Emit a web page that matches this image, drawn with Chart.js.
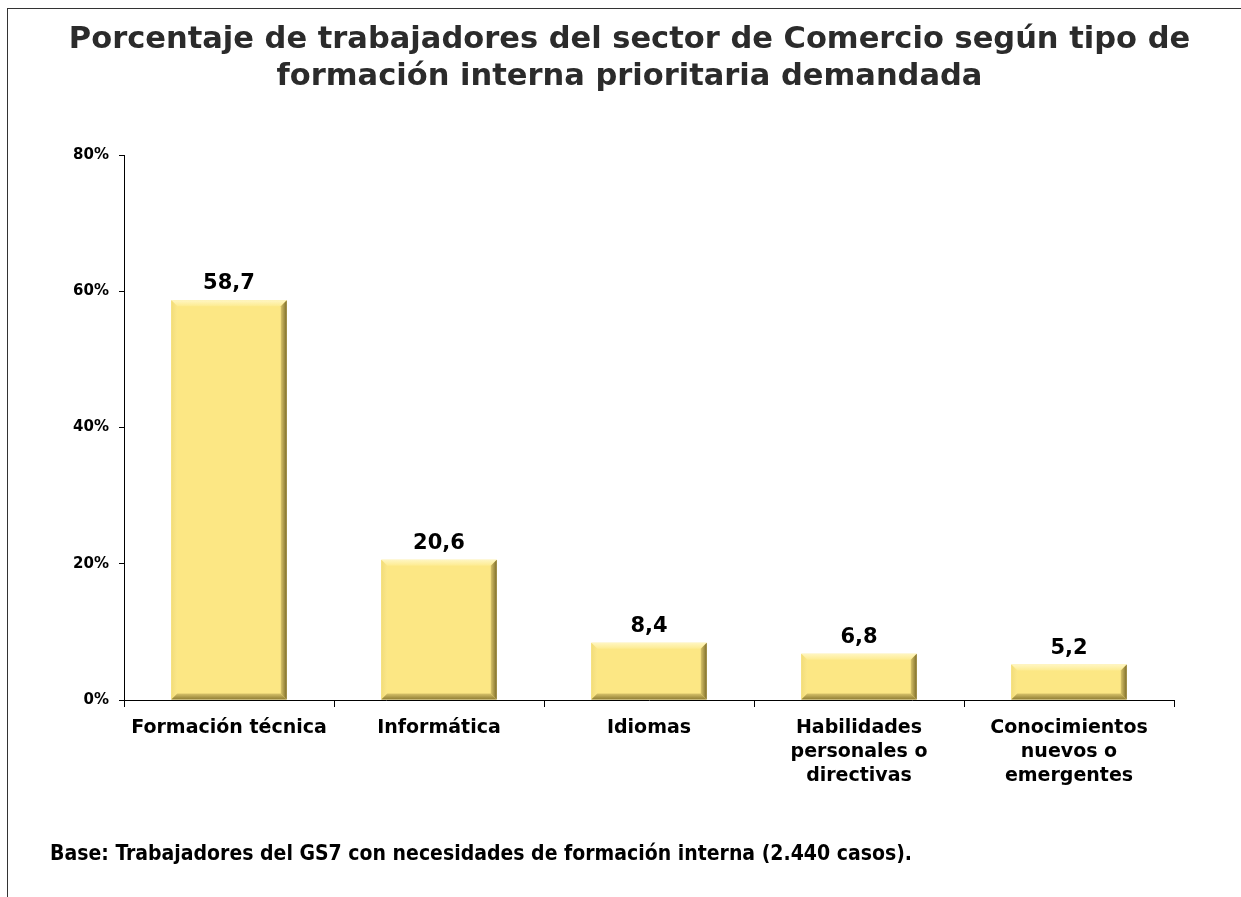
<!DOCTYPE html>
<html>
<head>
<meta charset="utf-8">
<script src="https://cdn.jsdelivr.net/npm/chart.js@4"></script>
<style>
    html, body { margin: 0; padding: 0; background: #fff; overflow: hidden; }
    #frame {
        position: absolute; left: 7px; top: 8px; width: 1400px; height: 1000px;
        border-left: 1px solid #333; border-top: 1px solid #333;
    }
    #wrap { position: absolute; left: 0; top: 0; width: 1241px; height: 897px; }
    #footer {
        position: absolute; left: 50px; top: 843px;
        font-family: "DejaVu Sans", Verdana, sans-serif;
        font-weight: bold; font-size: 21px; line-height: 1;
        font-stretch: condensed;
        white-space: nowrap; color: #000;
    }
</style>
</head>
<body>
<div id="frame"></div>
<div id="wrap"><canvas id="chart" width="1241" height="897"></canvas></div>
<div id="footer">Base: Trabajadores del GS7 con necesidades de formación interna (2.440 casos).</div>

<script>
'use strict';

// chart data
const categories = [
    'Formación técnica',
    'Informática',
    'Idiomas',
    ['Habilidades', 'personales o', 'directivas'],
    ['Conocimientos', 'nuevos o', 'emergentes'],
];
const percentages = [58.7, 20.6, 8.4, 6.8, 5.2];
const yTicks = [0, 20, 40, 60, 80];
const titleLines = [
    'Porcentaje de trabajadores del sector de Comercio según tipo de',
    'formación interna prioritaria demandada',
];

const FONT = '"DejaVu Sans", Verdana, sans-serif';

// squeeze the footer note to the width it has in the original
const footer = document.getElementById('footer');
const footerTarget = 862;
const footerNatural = footer.getBoundingClientRect().width;
footer.style.letterSpacing = ((footerTarget - footerNatural) / footer.textContent.length) + 'px';

/**
 * Draw a bevel on every bar, like the office "relieve" effect.
 */
const bevelPlugin = {
    id: 'bevel',
    afterDatasetsDraw(chart) {
        const ctx = chart.ctx;
        const meta = chart.getDatasetMeta(0);
        meta.data.forEach((bar) => {
            const p = bar.getProps(['x', 'y', 'base', 'width'], true);
            const l = p.x - p.width / 2;
            const r = p.x + p.width / 2;
            const t = p.y;
            const b = p.base;
            const d = 6;

            const poly = (pts, fill) => {
                ctx.beginPath();
                ctx.moveTo(pts[0][0], pts[0][1]);
                pts.slice(1).forEach((q) => ctx.lineTo(q[0], q[1]));
                ctx.closePath();
                ctx.fillStyle = fill;
                ctx.fill();
            };

            ctx.save();
            // top
            let g = ctx.createLinearGradient(0, t, 0, t + d);
            g.addColorStop(0, '#fff6c2');
            g.addColorStop(1, '#fdeb90');
            poly([[l, t], [r, t], [r - d, t + d], [l + d, t + d]], g);
            // left
            g = ctx.createLinearGradient(l, 0, l + d, 0);
            g.addColorStop(0, '#f2dc78');
            g.addColorStop(1, '#fbe78a');
            poly([[l, t], [l + d, t + d], [l + d, b - d], [l, b]], g);
            // right
            g = ctx.createLinearGradient(r - d, 0, r, 0);
            g.addColorStop(0, '#d9c46a');
            g.addColorStop(1, '#7d6c2a');
            poly([[r, t], [r, b], [r - d, b - d], [r - d, t + d]], g);
            // bottom
            g = ctx.createLinearGradient(0, b - d, 0, b);
            g.addColorStop(0, '#d8c36a');
            g.addColorStop(1, '#8f7d33');
            poly([[l, b], [l + d, b - d], [r - d, b - d], [r, b]], g);
            ctx.restore();
        });
    },
};

/**
 * Value labels above bars (Spanish decimal comma).
 */
const valueLabelPlugin = {
    id: 'valueLabels',
    afterDatasetsDraw(chart) {
        const ctx = chart.ctx;
        const meta = chart.getDatasetMeta(0);
        const values = chart.data.datasets[0].data;
        ctx.save();
        ctx.font = 'bold 21px ' + FONT;
        ctx.fillStyle = '#000';
        ctx.textAlign = 'center';
        ctx.textBaseline = 'alphabetic';
        meta.data.forEach((bar, i) => {
            const text = values[i].toFixed(1).replace('.', ',');
            ctx.fillText(text, bar.x, bar.y - 11);
        });
        ctx.restore();
    },
};

const ctx = document.getElementById('chart').getContext('2d');

new Chart(ctx, {
    type: 'bar',
    data: {
        labels: categories,
        datasets: [
            {
                data: percentages,
                backgroundColor: '#fce784',
                borderWidth: 0,
                barPercentage: 0.55,
                categoryPercentage: 1,
            },
        ],
    },
    options: {
        responsive: false,
        animation: false,
        events: [],
        layout: {
            padding: { left: 18, right: 0, top: 0, bottom: 0 },
        },
        plugins: {
            legend: { display: false },
            tooltip: { enabled: false },
            title: {
                display: true,
                text: titleLines,
                color: '#2b2b2b',
                font: { family: FONT, size: 30.5, weight: 'bold', lineHeight: 1.2 },
                padding: { top: 22, bottom: 60 },
            },
        },
        scales: {
            x: {
                grid: {
                    offset: true,
                    drawOnChartArea: false,
                    tickLength: 7,
                    color: '#000',
                },
                border: { color: '#000', width: 1 },
                ticks: {
                    color: '#000',
                    padding: 9,
                    maxRotation: 0,
                    autoSkip: false,
                    font: { family: FONT, size: 19, weight: 'bold', lineHeight: 1.26 },
                },
                afterFit: (scale) => { scale.height = 197; },
            },
            y: {
                min: 0,
                max: 80,
                afterBuildTicks: (scale) => {
                    scale.ticks = yTicks.map((v) => ({ value: v }));
                },
                grid: {
                    drawOnChartArea: false,
                    tickLength: 5,
                    color: '#000',
                },
                border: { color: '#000', width: 1 },
                ticks: {
                    color: '#000',
                    padding: 10,
                    font: { family: FONT, size: 15, weight: 'bold' },
                    callback: (v) => v + '%',
                },
                afterFit: (scale) => { scale.width = 106; },
            },
            // empty axis that only keeps the right margin, so the title stays centred on the page
            spacer: {
                type: 'linear',
                position: 'right',
                grid: { display: false },
                border: { display: false },
                ticks: { display: false },
                afterFit: (scale) => { scale.width = 67; },
            },
        },
    },
    plugins: [bevelPlugin, valueLabelPlugin],
});
</script>
</body>
</html>
